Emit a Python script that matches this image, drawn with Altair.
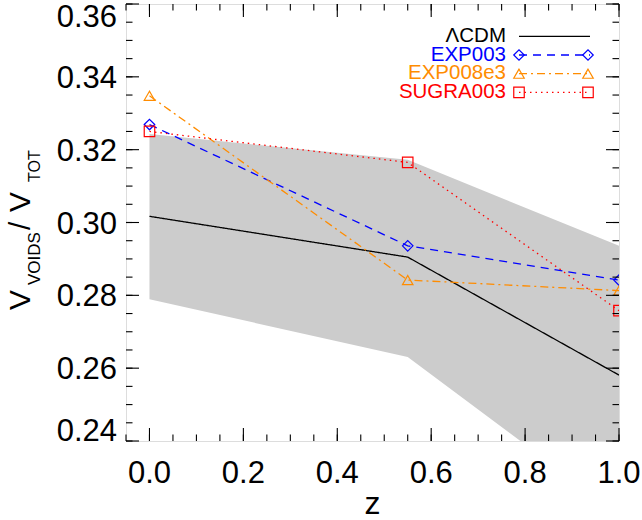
import altair as alt
import pandas as pd

# ---- data ----
z = [0.0, 0.55, 1.0]
lcdm = [0.3017, 0.2905, 0.2581]
band_hi = [0.3243, 0.3172, 0.2936]
band_lo = [0.2789, 0.2631, 0.2198]
exp003 = [0.3269, 0.2936, 0.2842]
exp008e3 = [0.3348, 0.2842, 0.2813]
sugra003 = [0.3250, 0.3165, 0.2758]

x_major = [0.0, 0.2, 0.4, 0.6, 0.8, 1.0]
x_labels = ["0.0", "0.2", "0.4", "0.6", "0.8", "1.0"]
x_minor = [round(0.05 * i, 2) for i in range(-1, 21)]
y_major = [0.24, 0.26, 0.28, 0.30, 0.32, 0.34, 0.36]
y_labels = ["0.24", "0.26", "0.28", "0.30", "0.32", "0.34", "0.36"]
y_minor = [round(0.24 + 0.005 * i, 3) for i in range(0, 25)]

W, H = 493, 437
FONT = "Liberation Sans"
BLUE, ORANGE, RED = "#0000ff", "#ff8c00", "#ff0000"
MSIZE = 110

xs = alt.Scale(domain=[-0.05, 1.0], nice=False, zero=False)
ys = alt.Scale(domain=[0.24, 0.36], nice=False, zero=False)

df = pd.DataFrame({"z": z, "lcdm": lcdm, "hi": band_hi, "lo": band_lo,
                   "exp003": exp003, "exp008e3": exp008e3, "sugra003": sugra003})

band = alt.Chart(df).mark_area(color="#cccccc", clip=True).encode(
    x=alt.X("z:Q", scale=xs, axis=None),
    y=alt.Y("hi:Q", scale=ys, axis=None),
    y2="lo:Q",
)


def series(col, color, dash, shape):
    base = alt.Chart(df).encode(
        x=alt.X("z:Q", scale=xs, axis=None),
        y=alt.Y(f"{col}:Q", scale=ys, axis=None),
    )
    line = base.mark_line(color=color, strokeWidth=1.3, strokeDash=dash, clip=True)
    if shape is None:
        return line
    pts = base.mark_point(shape=shape, filled=False, color=color, size=MSIZE,
                          strokeWidth=1.2, opacity=1, clip=True)
    return line + pts


lines = [
    series("lcdm", "black", [1, 0], None),
    series("exp003", BLUE, [8, 6], "diamond"),
    series("exp008e3", ORANGE, [8, 4, 2, 4], "triangle-up"),
    series("sugra003", RED, [1.5, 4], "square"),
]


# ---- inward ticks on all four sides ----
def yticks(vals, length):
    d = pd.DataFrame({"v": vals})
    b = alt.Chart(d).encode(y=alt.Y("v:Q", scale=ys, axis=None))
    return (b.mark_rule(color="black", strokeWidth=1.1).encode(x=alt.value(0), x2=alt.value(length)) +
            b.mark_rule(color="black", strokeWidth=1.1).encode(x=alt.value(W - length), x2=alt.value(W)))


def xticks(vals, length):
    d = pd.DataFrame({"v": vals})
    b = alt.Chart(d).encode(x=alt.X("v:Q", scale=xs, axis=None))
    return (b.mark_rule(color="black", strokeWidth=1.1).encode(y=alt.value(H - length), y2=alt.value(H)) +
            b.mark_rule(color="black", strokeWidth=1.1).encode(y=alt.value(0), y2=alt.value(length)))


ticks = [yticks(y_minor, 6.5), yticks(y_major, 13), xticks(x_minor, 6.5), xticks(x_major, 13)]

# ---- tick labels (drawn through the scales) ----
ylab_df = pd.DataFrame({"v": y_major, "t": y_labels})


def ylabels(sub, dy):
    return alt.Chart(sub).mark_text(font=FONT, fontSize=31, color="black", align="right",
                                    baseline="alphabetic", dy=dy).encode(
        y=alt.Y("v:Q", scale=ys, axis=None), x=alt.value(-9), text="t:N")


tick_labels = [
    ylabels(ylab_df.iloc[[0]], 0),
    ylabels(ylab_df.iloc[1:-1], 11),
    ylabels(ylab_df.iloc[[-1]], 23),
    alt.Chart(pd.DataFrame({"v": x_major, "t": x_labels})).mark_text(
        font=FONT, fontSize=31, color="black", align="center", baseline="alphabetic").encode(
        x=alt.X("v:Q", scale=xs, axis=None), y=alt.value(H + 42), text="t:N"),
]

one = pd.DataFrame({"k": [0]})


def txt(text, x, y, size, color="black", align="left", angle=0):
    return alt.Chart(one).mark_text(text=text, font=FONT, fontSize=size, color=color,
                                    align=align, baseline="alphabetic", angle=angle).encode(
        x=alt.value(x), y=alt.value(y))


# ---- axis titles ----
titles = [
    txt("z", W / 2, 510, 32, align="center"),
    txt("V", -96, 306, 30, angle=270),
    txt("VOIDS", -86, 281, 17, angle=270),
    txt("/", -96, 226, 30, angle=270),
    txt("V", -96, 208, 30, angle=270),
    txt("TOT", -86, 178, 16, angle=270),
]

# ---- legend ----
legend_items = [
    ("ΛCDM", "black", [1, 0], None),
    ("EXP003", BLUE, [8, 6], "diamond"),
    ("EXP008e3", ORANGE, [8, 4, 2, 4], "triangle-up"),
    ("SUGRA003", RED, [1.5, 4], "square"),
]
legend = []
for i, (lab, col, dash, shape) in enumerate(legend_items):
    c = 30.5 + i * 18.7
    legend.append(txt(lab, 380, c + 7.3, 20.5, color=col, align="right"))
    ly = c + 1.8
    legend.append(alt.Chart(one).mark_rule(color=col, strokeWidth=1.3, strokeDash=dash).encode(
        x=alt.value(393), x2=alt.value(464), y=alt.value(ly)))
    if shape is not None:
        for px in (393, 462):
            legend.append(alt.Chart(one).mark_point(shape=shape, filled=False, color=col, size=MSIZE,
                                                    strokeWidth=1.2, opacity=1).encode(
                x=alt.value(px), y=alt.value(ly)))

chart = alt.layer(band, *lines, *ticks, *tick_labels, *titles, *legend).properties(
    width=W, height=H,
    autosize=alt.AutoSizeParams(type="none"),
    padding={"left": 126, "top": 4, "right": 23, "bottom": 79},
).configure_view(stroke="black", strokeWidth=1.5).configure(background="white")

chart.save("out.html", embed_options={"renderer": "svg", "actions": False})
